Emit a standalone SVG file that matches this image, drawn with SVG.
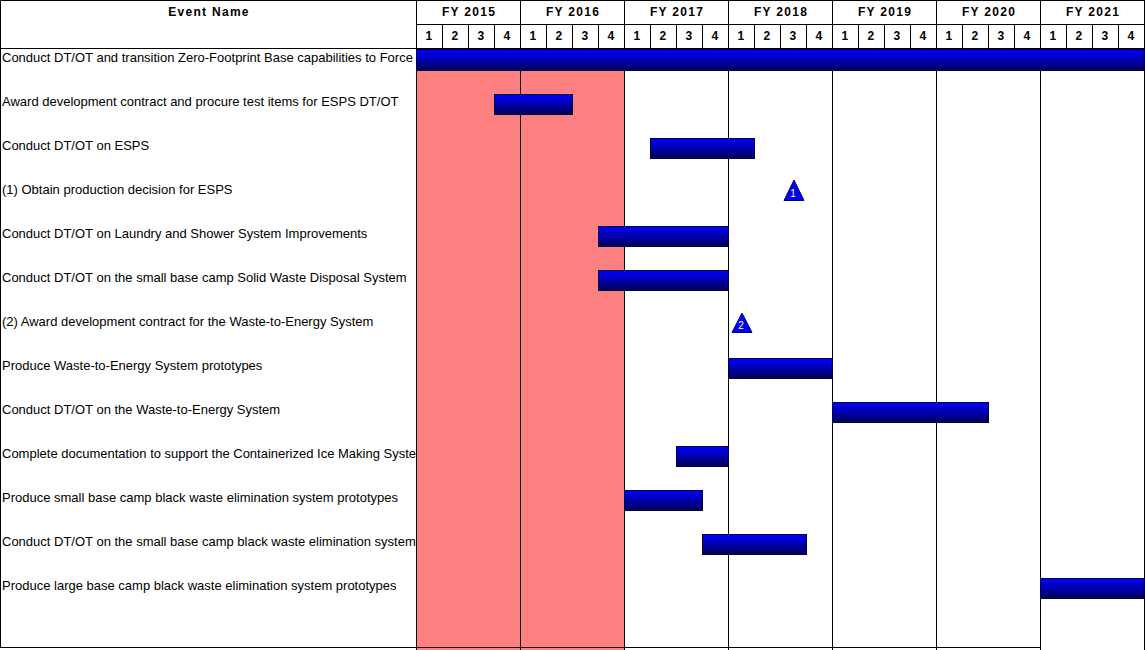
<svg xmlns="http://www.w3.org/2000/svg" width="1145" height="650" viewBox="0 0 1145 650">
<defs>
<linearGradient id="bg" x1="0" y1="0" x2="0" y2="1">
<stop offset="0" stop-color="#0000ff"/>
<stop offset="1" stop-color="#000058"/>
</linearGradient>
<clipPath id="lc"><rect x="0" y="48" width="416" height="602"/></clipPath>
<style>
.t{font-family:"Liberation Sans",Arial,sans-serif;font-size:13px;fill:#000}
.h{font-family:"Liberation Sans",Arial,sans-serif;font-size:12px;font-weight:bold;fill:#000;text-anchor:middle;letter-spacing:1.3px}
.ln{stroke:#000;stroke-width:1;fill:none}
.bar{fill:url(#bg);stroke:#000040;stroke-width:1}
.tri{fill:#0000ee;stroke:#000080;stroke-width:1}
.tl{font-family:"Liberation Sans",Arial,sans-serif;font-size:10px;fill:#fff;text-anchor:middle}
</style>
</defs>
<rect width="1145" height="650" fill="#fff"/>
<rect x="416" y="48" width="208" height="602" fill="#ff8080"/>
<g id="grid">
<path class="ln" d="M0.5,0.5H1144.5M0.5,0.5V648M416.5,0.5V650M0,48.5H1145M416,24.5H1145M520.5,0V650M624.5,0V650M728.5,0V650M832.5,0V650M936.5,0V650M1040.5,0V650M1144.5,0V650M0,647.5H1040"/>
<path class="ln" d="M442.5,24V48M468.5,24V48M494.5,24V48M546.5,24V48M572.5,24V48M598.5,24V48M650.5,24V48M676.5,24V48M702.5,24V48M754.5,24V48M780.5,24V48M806.5,24V48M858.5,24V48M884.5,24V48M910.5,24V48M962.5,24V48M988.5,24V48M1014.5,24V48M1066.5,24V48M1092.5,24V48M1118.5,24V48"/>
</g>
<g id="header">
<text class="h" x="209" y="16">Event Name</text>
<text class="h" x="469" y="16">FY 2015</text>
<text class="h" x="573" y="16">FY 2016</text>
<text class="h" x="677" y="16">FY 2017</text>
<text class="h" x="781" y="16">FY 2018</text>
<text class="h" x="885" y="16">FY 2019</text>
<text class="h" x="989" y="16">FY 2020</text>
<text class="h" x="1093" y="16">FY 2021</text>
<g>
<text class="h" x="429.5" y="40">1</text><text class="h" x="455.5" y="40">2</text><text class="h" x="481.5" y="40">3</text><text class="h" x="507.5" y="40">4</text>
<text class="h" x="533.5" y="40">1</text><text class="h" x="559.5" y="40">2</text><text class="h" x="585.5" y="40">3</text><text class="h" x="611.5" y="40">4</text>
<text class="h" x="637.5" y="40">1</text><text class="h" x="663.5" y="40">2</text><text class="h" x="689.5" y="40">3</text><text class="h" x="715.5" y="40">4</text>
<text class="h" x="741.5" y="40">1</text><text class="h" x="767.5" y="40">2</text><text class="h" x="793.5" y="40">3</text><text class="h" x="819.5" y="40">4</text>
<text class="h" x="845.5" y="40">1</text><text class="h" x="871.5" y="40">2</text><text class="h" x="897.5" y="40">3</text><text class="h" x="923.5" y="40">4</text>
<text class="h" x="949.5" y="40">1</text><text class="h" x="975.5" y="40">2</text><text class="h" x="1001.5" y="40">3</text><text class="h" x="1027.5" y="40">4</text>
<text class="h" x="1053.5" y="40">1</text><text class="h" x="1079.5" y="40">2</text><text class="h" x="1105.5" y="40">3</text><text class="h" x="1131.5" y="40">4</text>
</g>
</g>
<g id="labels" clip-path="url(#lc)">
<text class="t" x="2" y="62">Conduct DT/OT and transition Zero-Footprint Base capabilities to Force Provider</text>
<text class="t" x="2" y="106">Award development contract and procure test items for ESPS DT/OT</text>
<text class="t" x="2" y="150">Conduct DT/OT on ESPS</text>
<text class="t" x="2" y="194">(1) Obtain production decision for ESPS</text>
<text class="t" x="2" y="238">Conduct DT/OT on Laundry and Shower System Improvements</text>
<text class="t" x="2" y="282">Conduct DT/OT on the small base camp Solid Waste Disposal System</text>
<text class="t" x="2" y="326">(2) Award development contract for the Waste-to-Energy System</text>
<text class="t" x="2" y="370">Produce Waste-to-Energy System prototypes</text>
<text class="t" x="2" y="414">Conduct DT/OT on the Waste-to-Energy System</text>
<text class="t" x="2" y="458">Complete documentation to support the Containerized Ice Making System</text>
<text class="t" x="2" y="502">Produce small base camp black waste elimination system prototypes</text>
<text class="t" x="2" y="546">Conduct DT/OT on the small base camp black waste elimination system</text>
<text class="t" x="2" y="590">Produce large base camp black waste elimination system prototypes</text>
</g>
<g id="bars">
<rect class="bar" x="416.5" y="49.5" width="728" height="21"/>
<rect class="bar" x="494.5" y="94.5" width="78" height="20"/>
<rect class="bar" x="650.5" y="138.5" width="104" height="20"/>
<rect class="bar" x="598.5" y="226.5" width="130" height="20"/>
<rect class="bar" x="598.5" y="270.5" width="130" height="20"/>
<rect class="bar" x="728.5" y="358.5" width="104" height="20"/>
<rect class="bar" x="832.5" y="402.5" width="156" height="20"/>
<rect class="bar" x="676.5" y="446.5" width="52" height="20"/>
<rect class="bar" x="624.5" y="490.5" width="78" height="20"/>
<rect class="bar" x="702.5" y="534.5" width="104" height="20"/>
<rect class="bar" x="1040.5" y="578.5" width="104" height="20"/>
</g>
<g id="milestones">
<g id="m1"><polygon class="tri" points="794,180 784,200.5 804,200.5"/><text class="tl" x="793" y="197">1</text></g>
<g id="m2"><polygon class="tri" points="742,313 732,332.5 752,332.5"/><text class="tl" x="741" y="329">2</text></g>
</g>
</svg>
